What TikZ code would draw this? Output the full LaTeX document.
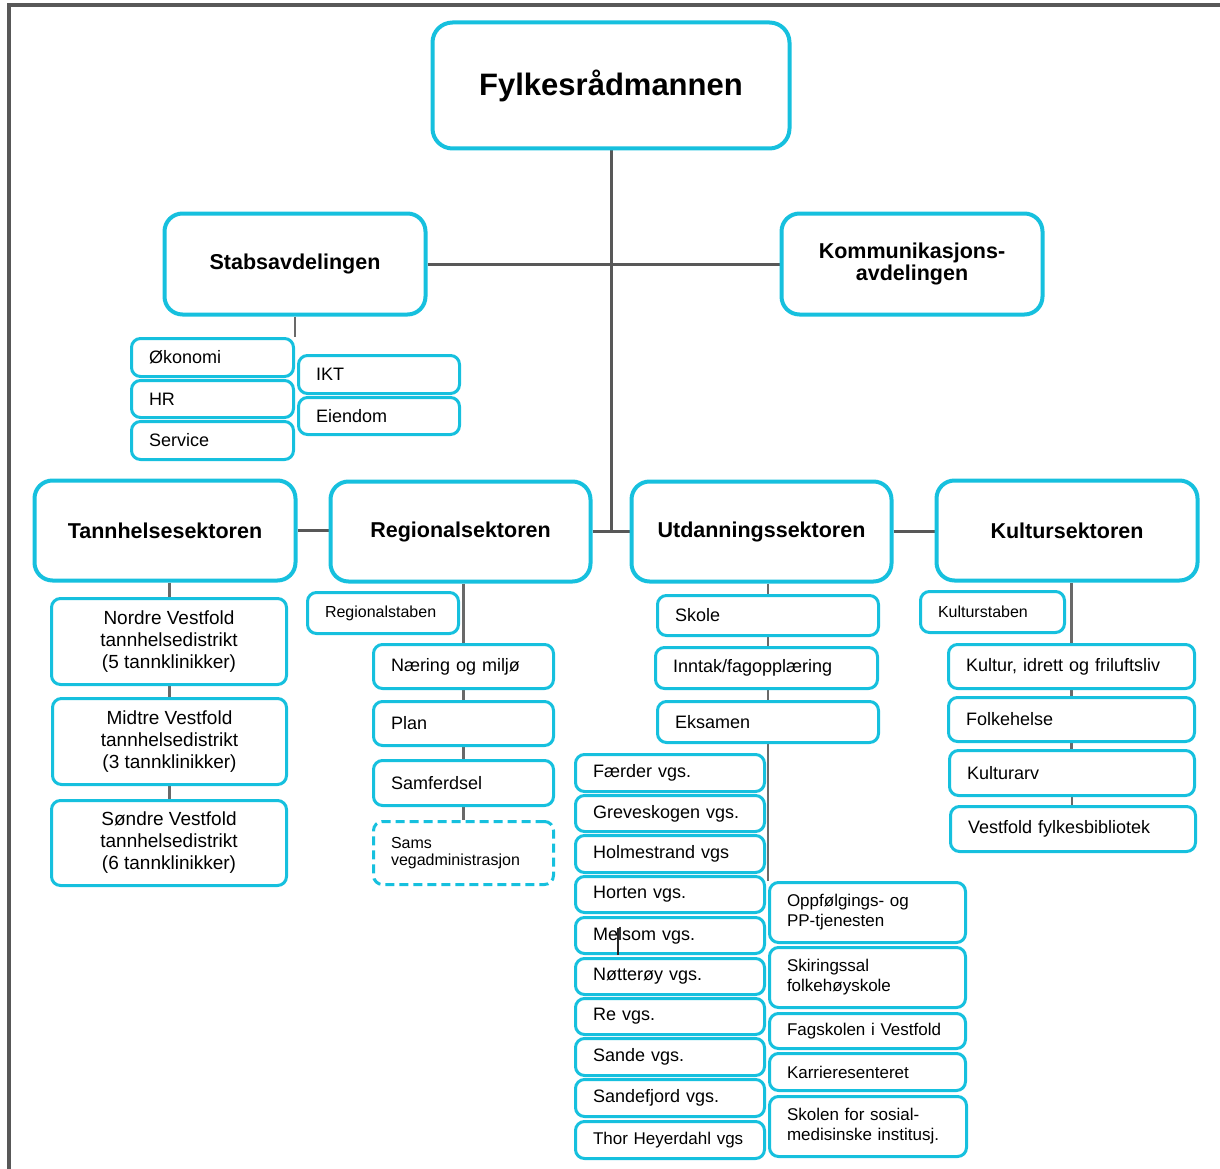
\documentclass[tikz,border=0pt]{standalone}
\usepackage{fontspec}
\setmainfont{Liberation Sans}
\usetikzlibrary{backgrounds}
\definecolor{cy}{RGB}{22,192,222}
\definecolor{ln}{RGB}{105,105,105}
\definecolor{fr}{RGB}{88,88,88}
\newcommand{\cbox}[7]{%
  \pgfmathsetmacro\myw{#5-#3-3}\pgfmathsetmacro\myh{#6-#4-3}%
  \pgfmathsetmacro\myx{(#3+#5)/2}\pgfmathsetmacro\myy{(#4+#6)/2}%
  \node[#2, minimum width=\myw pt, minimum height=\myh pt] (#1) at (\myx,\myy) {#7};}
\newcommand{\lbox}[7]{%
  \pgfmathsetmacro\myw{#5-#3-3}\pgfmathsetmacro\myh{#6-#4-3}%
  \pgfmathsetmacro\mytw{\myw-35}%
  \pgfmathsetmacro\myx{(#3+#5)/2}\pgfmathsetmacro\myy{(#4+#6)/2}%
  \node[#2, text width=\mytw pt, inner xsep=17.5pt, inner ysep=0pt, minimum height=\myh pt, align=left] (#1) at (\myx,\myy) {#7};}
\tikzset{
  big/.style={draw=cy, line width=4pt, rounded corners=20pt, fill=white, align=center, font=\bfseries\fontsize{31}{36}\selectfont},
  sec/.style={draw=cy, line width=4pt, rounded corners=18pt, fill=white, align=center, font=\bfseries\fontsize{21.5}{22}\selectfont},
  sub/.style={draw=cy, line width=3pt, rounded corners=9pt, fill=white, font=\fontsize{18}{20}\selectfont},
  subs/.style={sub, font=\fontsize{16}{17}\selectfont},
  subr/.style={sub, font=\fontsize{17}{20}\selectfont},
  dist/.style={sub, align=center, font=\fontsize{19}{22}\selectfont},
  conn/.style={draw=ln, line width=2.5pt},
  connt/.style={draw=fr, line width=3pt},
}
\begin{document}
\begin{tikzpicture}[x=1pt,y=-1pt]
\useasboundingbox (0,0) rectangle (1220,1169);
\draw[fr, line width=3.5pt] (9,1169) -- (9,5) -- (1220,5);
% top
\cbox{fyl}{big}{431}{21}{791}{150}{Fylkesrådmannen}
\cbox{stab}{sec}{163}{212}{427}{316}{Stabsavdelingen}
\cbox{kom}{sec}{780}{212}{1044}{316}{Kommunikasjons-\\avdelingen}
% stab
\lbox{oko}{sub}{130}{337}{295}{378}{Økonomi}
\lbox{hr}{sub}{130}{379}{295}{419}{HR}
\lbox{ser}{sub}{130}{420}{295}{461}{Service}
\lbox{ikt}{sub}{297}{354}{461}{395}{IKT}
\lbox{eie}{sub}{297}{396}{461}{436}{Eiendom}
% sectors
\cbox{tann}{sec}{33}{479}{297}{582}{Tannhelsesektoren}
\cbox{reg}{sec}{329}{480}{592}{583}{Regionalsektoren}
\cbox{utd}{sec}{630}{480}{893}{583}{Utdanningssektoren}
\cbox{kul}{sec}{935}{479}{1199}{582}{Kultursektoren}
% tannhelse
\cbox{nor}{dist}{50}{597}{288}{686}{Nordre Vestfold\\tannhelsedistrikt\\(5 tannklinikker)}
\cbox{mid}{dist}{51}{697}{288}{786}{Midtre Vestfold\\tannhelsedistrikt\\(3 tannklinikker)}
\cbox{sor}{dist}{50}{799}{288}{887}{Søndre Vestfold\\tannhelsedistrikt\\(6 tannklinikker)}
% regional
\lbox{rst}{subs}{306}{591}{460}{635}{Regionalstaben}
\lbox{nae}{sub}{372}{643}{555}{690}{Næring og miljø}
\lbox{pla}{sub}{372}{700}{555}{747}{Plan}
\lbox{sam}{sub}{372}{759}{555}{807}{Samferdsel}
\lbox{sams}{subs,dashed,dash pattern=on 9pt off 5pt}{372}{820}{555}{886}{Sams\\vegadministrasjon}
% utdanning
\lbox{sko}{sub}{656}{594}{880}{637}{Skole}
\lbox{inn}{sub}{654}{646}{879}{690}{Inntak/fagopplæring}
\lbox{eks}{sub}{656}{700}{880}{744}{Eksamen}
\lbox{v1}{sub}{574}{753}{766}{793}{Færder vgs.}
\lbox{v2}{sub}{574}{794}{766}{833}{Greveskogen vgs.}
\lbox{v3}{sub}{574}{834}{766}{874}{Holmestrand vgs}
\lbox{v4}{sub}{574}{875}{766}{914}{Horten vgs.}
\lbox{v5}{sub}{574}{916}{766}{955}{Melsom vgs.}
\lbox{v6}{sub}{574}{957}{766}{996}{Nøtterøy vgs.}
\lbox{v7}{sub}{574}{997}{766}{1036}{Re vgs.}
\lbox{v8}{sub}{574}{1037}{766}{1077}{Sande vgs.}
\lbox{v9}{sub}{574}{1078}{766}{1118}{Sandefjord vgs.}
\lbox{v10}{subr}{574}{1120}{766}{1160}{Thor Heyerdahl vgs}
\lbox{opp}{subr}{768}{881}{967}{944}{Oppfølgings- og\\PP-tjenesten}
\lbox{ski}{subr}{768}{946}{967}{1009}{Skiringssal\\folkehøyskole}
\lbox{fag}{subr}{768}{1012}{967}{1050}{Fagskolen i Vestfold}
\lbox{kar}{subr}{768}{1052}{967}{1092}{Karrieresenteret}
\lbox{sos}{subr}{768}{1095}{968}{1158}{Skolen for sosial-\\medisinske institusj.}
% kultur
\lbox{kst}{subs}{919}{590}{1066}{634}{Kulturstaben}
\lbox{kid}{sub}{947}{643}{1196}{690}{Kultur, idrett og friluftsliv}
\lbox{fol}{sub}{947}{696}{1196}{743}{Folkehelse}
\lbox{kav}{sub}{948}{749}{1196}{797}{Kulturarv}
\lbox{vfb}{sub}{949}{805}{1197}{853}{Vestfold fylkesbibliotek}
% cursor mark in Melsom
\draw[black!85, line width=1.2pt] (618,928) -- (618,955);
\begin{pgfonlayer}{background}
\draw[connt] (fyl.south) -- (fyl.south |- reg.east);
\draw[connt] (stab.east) -- (kom.west);
\draw[connt] (tann.east) -- (tann.east -| reg.west);
\draw[connt] (reg.east) -- (reg.east -| utd.west);
\draw[connt] (utd.east) -- (utd.east -| kul.west);
\draw[conn] (stab.south) -- (stab.south |- oko.north);
\draw[conn] (tann.south -| mid.north) -- (nor.north -| mid.north);
\draw[conn] (nor.south -| mid.north) -- (mid.north);
\draw[conn] (mid.south) -- (sor.north -| mid.south);
\draw[conn] (reg.south -| nae.north) -- (nae.north);
\draw[conn] (nae.south) -- (pla.north);
\draw[conn] (pla.south) -- (sam.north);
\draw[conn] (sam.south) -- (sams.north);
\draw[conn] (utd.south -| sko.north) -- (sko.north);
\draw[conn] (sko.south) -- (inn.north -| sko.south);
\draw[conn] (inn.south -| eks.north) -- (eks.north);
\draw[conn] (eks.south) -- (eks.south |- opp.north);
\draw[conn] (kul.south -| kid.north) -- (kid.north);
\draw[conn] (kid.south) -- (fol.north);
\draw[conn] (fol.south) -- (kav.north -| fol.south);
\draw[conn] (kav.south) -- (vfb.north -| kav.south);
\end{pgfonlayer}
\end{tikzpicture}
\end{document}
